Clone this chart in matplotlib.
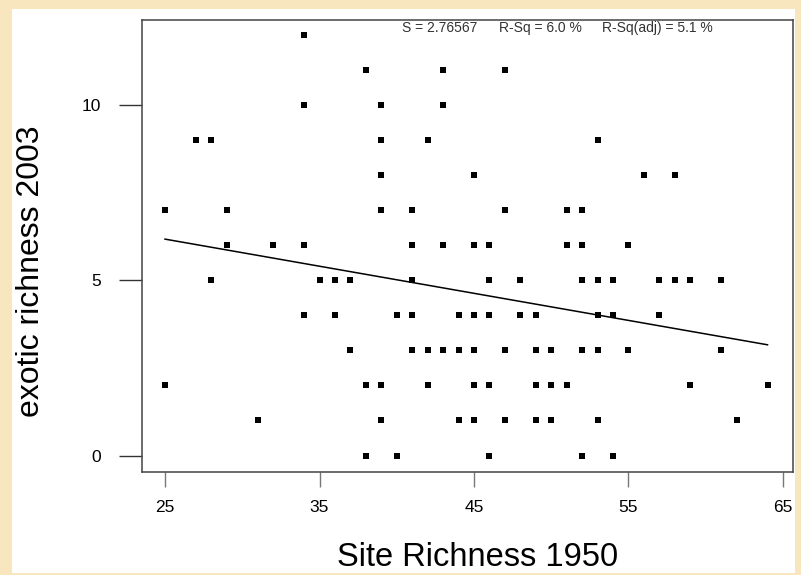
import numpy as np
import matplotlib
matplotlib.use("Agg")
import matplotlib.pyplot as plt
from matplotlib.patches import Rectangle

# Data, grouped by exotic richness value (y)
x_y12 = [34]
x_y11 = [38, 43, 47]
x_y10 = [34, 39, 43]
x_y9 = [27, 28, 39, 42, 53]
x_y8 = [39, 45, 56, 58]
x_y7 = [25, 29, 39, 41, 47, 51, 52]
x_y6 = [29, 32, 34, 41, 43, 45, 46, 51, 52, 55]
x_y5 = [28, 35, 36, 37, 41, 46, 48, 52, 53, 54, 57, 58, 59, 61]
x_y4 = [34, 36, 40, 41, 44, 45, 46, 48, 49, 53, 54, 57]
x_y3 = [37, 41, 42, 43, 44, 45, 47, 49, 50, 52, 53, 55, 61]
x_y2 = [25, 38, 39, 42, 45, 46, 49, 50, 51, 59, 64]
x_y1 = [31, 39, 44, 45, 47, 49, 50, 53, 62]
x_y0 = [38, 40, 46, 52, 54]

groups = {12: x_y12, 11: x_y11, 10: x_y10, 9: x_y9, 8: x_y8, 7: x_y7, 6: x_y6,
          5: x_y5, 4: x_y4, 3: x_y3, 2: x_y2, 1: x_y1, 0: x_y0}
site_richness_1950 = np.array([x for yv, xs in groups.items() for x in xs], float)
exotic_richness_2003 = np.array([yv for yv, xs in groups.items() for x in xs], float)

x_ticks = [25, 35, 45, 55, 65]
y_ticks = [0, 5, 10]
stats_text = ["S = 2.76567", "R-Sq = 6.0 %", "R-Sq(adj) = 5.1 %"]

W, H = 801, 575
fig = plt.figure(figsize=(W / 100, H / 100), dpi=100)
fig.patch.set_facecolor("#F8E6BF")
# white panel
fig.patches.append(Rectangle((12 / W, 2 / H), (795 - 12) / W, (566 - 2) / H,
                             transform=fig.transFigure, facecolor="white",
                             edgecolor="none", zorder=-10))

ax = fig.add_axes([141.7 / W, (H - 472) / H, (793 - 141.7) / W, (472 - 20) / H])
ax.set_zorder(5)
ax.set_facecolor("white")
ax.set_xlim(23.49, 65.65)
ax.set_ylim(-0.47, 12.43)

ax.plot(site_richness_1950, exotic_richness_2003, 's', color="black",
        markersize=4.2, markeredgewidth=0)

slope, intercept = np.polyfit(site_richness_1950, exotic_richness_2003, 1)
xl = np.array([site_richness_1950.min(), site_richness_1950.max()])
ax.plot(xl, intercept + slope * xl, color="black", linewidth=1.1)

for s in ax.spines.values():
    s.set_color("#444444")
    s.set_linewidth(1.1)

ax.set_xticks(x_ticks)
ax.set_yticks(y_ticks)
ax.tick_params(axis="x", length=10.5, width=1.0, color="#777777", pad=10,
               labelsize=12.5, labelcolor="black")
ax.tick_params(axis="y", length=16.3, width=1.0, color="#333333", pad=13,
               labelsize=12.5, labelcolor="black")
for lab in ax.get_xticklabels() + ax.get_yticklabels():
    lab.set_family("Liberation Sans")

xs_pos = [401.7, 499, 601.7]
for t, px in zip(stats_text, xs_pos):
    fig.text(px / W, 1 - 28 / H, t, ha="left", va="center", fontsize=10,
             family="Liberation Sans", color="#333333", zorder=10)

fig.text(478 / W, 1 - 557 / H, "Site Richness 1950", ha="center", va="center",
         fontsize=23.5, family="Liberation Sans", color="black")
fig.text(31 / W, 1 - 271 / H, "exotic richness 2003", ha="center", va="center",
         rotation=90, fontsize=23, family="Liberation Sans", color="black")

fig.savefig("out.png", dpi=100, facecolor=fig.get_facecolor())
